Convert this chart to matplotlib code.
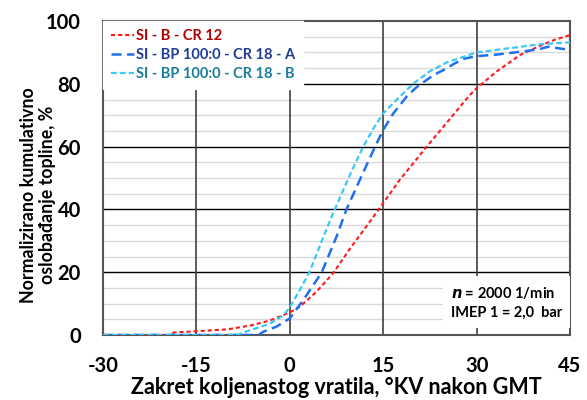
import numpy as np
import matplotlib.pyplot as plt

# ===============================
# data
# ===============================
x_red = [-30, -18.9, -18.7, -15, -10, -6.4, -3.2, 0, 1.6, 4.3, 7, 9.7, 12.9, 15, 17.7,
         22, 26, 28.9, 30, 33.2, 37, 40.2, 42.5, 45]
y_red = [0, 0, 0.8, 1.2, 1.8, 3.0, 4.6, 7.2, 9, 13.8, 19.8, 27.6, 36.2, 42, 49.5,
         60, 69.5, 76.4, 78.6, 83.9, 89.2, 92.1, 94, 95.5]

x_a = [-30, -5, -4.3, -2.1, 0, 2.15, 5.1, 7.5, 9.1, 11.5, 13.7, 15, 16.6, 18.8, 20.4, 23.1,
       25.2, 26.3, 28, 30, 33.2, 37, 40, 41.5, 43.9, 45]
y_a = [0, 0, 1, 2.7, 5.3, 11.1, 19.8, 31.3, 40, 50.5, 60, 65.3, 70.5, 76, 79, 82.8,
       84.9, 86.3, 88, 88.8, 89.3, 90.2, 91, 91.8, 91.1, 90.8]

x_b = [-30, -8.5, -6.4, -3.2, -1, 0, 1.6, 3.2, 5.4, 7, 8, 10, 11.8, 13.5, 15, 17.7, 19.8,
       22.5, 25.2, 30, 35.9, 40.2, 45]
y_b = [0, 0, 1.5, 3.6, 6.3, 8.8, 14.3, 20.2, 31.3, 39, 43.5, 52.5, 60, 66, 70.6, 76, 80,
       84, 86.8, 90, 91.5, 92.6, 93.2]

labels = ["SI - B - CR 12", "SI - BP 100:0 - CR 18 - A", "SI - BP 100:0 - CR 18 - B"]
x_ticks = [-30, -15, 0, 15, 30, 45]
y_ticks = [0, 20, 40, 60, 80, 100]
y_minor = [5, 10, 15, 25, 30, 35, 45, 50, 55, 65, 70, 75, 85, 90, 95]

plt.rcParams["font.family"] = ["Lato", "DejaVu Sans"]
plt.rcParams["font.weight"] = "bold"
plt.rcParams["axes.unicode_minus"] = False

fig = plt.figure(figsize=(5.87, 4.0), dpi=100)
ax = fig.add_axes([0.1755, 0.1625, 0.7955, 0.785])

ax.plot(x_red, y_red, color="#FF1A1A", lw=1.5, ls=(0, (2.0, 1.4)), label=labels[0], zorder=4)
ax.plot(x_a, y_a, color="#2070F0", lw=1.8, ls=(0, (4.0, 2.2)), label=labels[1], zorder=4)
ax.plot(x_b, y_b, color="#3CC8F5", lw=1.6, ls=(0, (2.6, 1.4)), label=labels[2], zorder=4)

ax.set_xlim(-30, 45)
ax.set_ylim(0, 100)
ax.set_xticks(x_ticks)
ax.set_yticks(y_ticks)

# grid: light minor rows, black major rows, dark grey columns on top
for y in y_minor:
    ax.axhline(y, color="#DADADA", lw=1.0, zorder=0.5)
for y in y_ticks[1:-1]:
    ax.axhline(y, color="#000000", lw=1.0, zorder=0.8)
for x in x_ticks[1:-1]:
    ax.axvline(x, color="#404040", lw=1.2, zorder=0.9)

ax.tick_params(which="both", length=0)
ax.tick_params(axis="x", pad=15, labelsize=14.5)
ax.tick_params(axis="y", pad=16, labelsize=14.5)
for sp in ax.spines.values():
    sp.set_color("#555555")
    sp.set_linewidth(1.5)

ax.set_xlabel("Zakret koljenastog vratila, °KV nakon GMT", fontsize=15.5, fontweight="bold", labelpad=1)
ax.set_ylabel("Normalizirano kumulativno\noslobađanje topline, %", fontsize=12.8, fontweight="bold",
              linespacing=1.2)
ax.yaxis.set_label_coords(-0.1, 0.445)

leg = ax.legend(loc="upper left", frameon=True, fancybox=False, fontsize=10.5,
                handlelength=1.6, handletextpad=0.1, borderpad=0.55, labelspacing=0.35,
                borderaxespad=0.0)
leg.get_frame().set_edgecolor("white")
leg.get_frame().set_facecolor("white")
leg.get_frame().set_alpha(1.0)
leg.set_zorder(5)
for t, c in zip(leg.get_texts(), ["#B00000", "#1F3C96", "#1C7C9C"]):
    t.set_color(c)
    t.set_fontweight("bold")

# annotation box
ax.text(0.745, 0.16, "$\\mathbfit{n}$ = 2000 1/min\nIMEP 1 = 2,0  bar", transform=ax.transAxes,
        fontsize=10.5, fontweight="bold", va="top", ha="left", linespacing=1.45, zorder=6,
        bbox=dict(facecolor="white", edgecolor="none", pad=6))

fig.savefig("out.png", dpi=100)
